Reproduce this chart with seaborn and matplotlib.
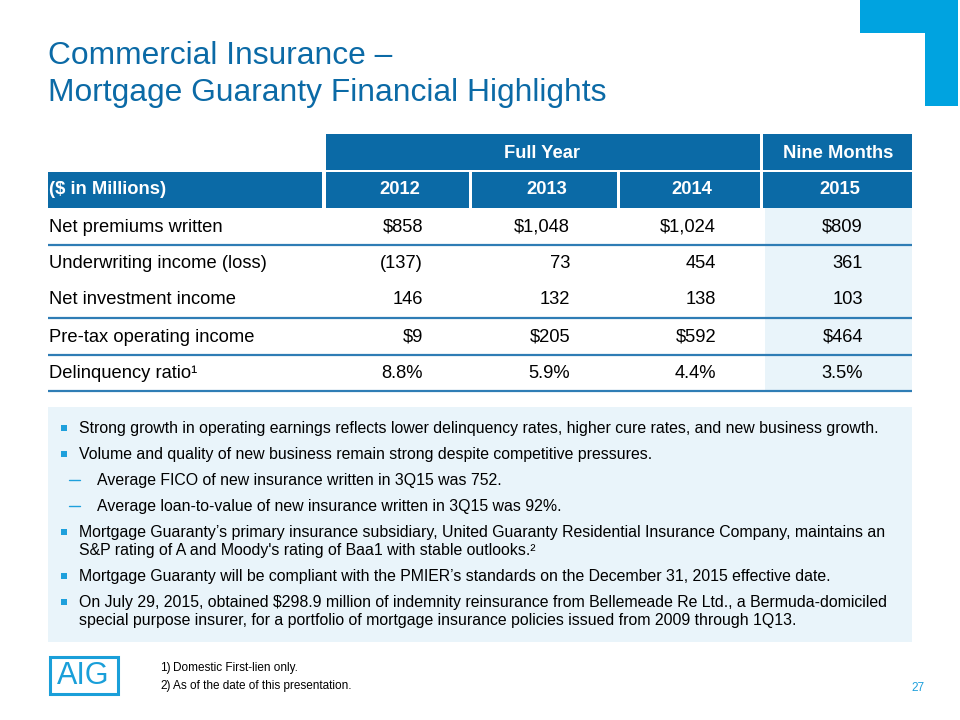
import matplotlib
matplotlib.use("Agg")
import matplotlib.pyplot as plt
import matplotlib.patches as mpatches
import seaborn as sns

# table data
title_lines = ["Commercial Insurance \u2013", "Mortgage Guaranty Financial Highlights"]
period_groups = ["Full Year", "Nine Months"]
unit_label = "($ in Millions)"
years = ["2012", "2013", "2014", "2015"]
row_labels = ["Net premiums written", "Underwriting income (loss)",
              "Net investment income", "Pre-tax operating income",
              "Delinquency ratio\u00b9"]
vals_2012 = ["$858", "(137)", "146", "$9", "8.8%"]
vals_2013 = ["$1,048", "73", "132", "$205", "5.9%"]
vals_2014 = ["$1,024", "454", "138", "$592", "4.4%"]
vals_2015 = ["$809", "361", "103", "$464", "3.5%"]
line_after = [True, False, True, True, True]

bullets = [
    (0, ["Strong growth in operating earnings reflects lower delinquency rates, higher cure rates, and new business growth."]),
    (0, ["Volume and quality of new business remain strong despite competitive pressures."]),
    (1, ["Average FICO of new insurance written in 3Q15 was 752."]),
    (1, ["Average loan-to-value of new insurance written in 3Q15 was 92%."]),
    (0, ["Mortgage Guaranty\u2019s primary insurance subsidiary, United Guaranty Residential Insurance Company, maintains an",
         "S&P rating of A and Moody's rating of Baa1 with stable outlooks.\u00b2"]),
    (0, ["Mortgage Guaranty will be compliant with the PMIER\u2019s standards on the December 31, 2015 effective date."]),
    (0, ["On July 29, 2015, obtained $298.9 million of indemnity reinsurance from Bellemeade Re Ltd., a Bermuda-domiciled",
         "special purpose insurer, for a portfolio of mortgage insurance policies issued from 2009 through 1Q13."]),
]
footnotes = ["Domestic First-lien only.", "As of the date of this presentation."]
page_no = "27"

DARK = "#0b6aa6"
BRIGHT = "#00a3e0"
PALE = "#e9f4fa"
RULE = "#2f7db5"

sns.set_theme(style="white")
plt.rcParams["font.family"] = ["Liberation Sans", "DejaVu Sans"]

fig = plt.figure(figsize=(9.6, 7.2), dpi=100)
ax = fig.add_axes([0, 0, 1, 1])
ax.set_xlim(0, 960)
ax.set_ylim(720, 0)
ax.axis("off")

def box(x0, y0, x1, y1, color, **kw):
    ax.add_patch(mpatches.Rectangle((x0, y0), x1 - x0, y1 - y0, facecolor=color,
                                    edgecolor="none", **kw))

# corner decoration
box(860, 0, 958, 33, BRIGHT)
box(925, 0, 958, 106, BRIGHT)

# title
for i, t in enumerate(title_lines):
    ax.text(48, 64 + 37 * i, t, fontsize=22.9, color=DARK, va="baseline", ha="left")

# header rows
FS = 13.2
col_edges = [(326, 469), (472, 617), (620, 760), (763, 912)]
box(326, 134, 760, 170, DARK)
box(763, 134, 912, 170, DARK)
ax.text(542, 153, period_groups[0], color="white", fontsize=FS, weight="bold", ha="center", va="center")
ax.text(838, 153, period_groups[1], color="white", fontsize=FS, weight="bold", ha="center", va="center")
box(48, 172, 322, 208, DARK)
ax.text(49, 190, unit_label, color="white", fontsize=FS, weight="bold", ha="left", va="center")
for (x0, x1), yr in zip(col_edges, years):
    box(x0, 172, x1, 208, DARK)
    ax.text((x0 + x1) / 2 + 2, 190, yr, color="white", fontsize=FS, weight="bold", ha="center", va="center")

# shaded current period column
box(765, 208, 912, 391, PALE)

row_y = [227, 264, 300, 337, 374]
rule_y = [245, 282, 318, 355, 391]
right_x = [423, 570, 716, 863]
columns = [vals_2012, vals_2013, vals_2014, vals_2015]
for i, lab in enumerate(row_labels):
    ax.text(49, row_y[i], lab, fontsize=FS, color="black", ha="left", va="center")
    for xr, col in zip(right_x, columns):
        ax.text(xr, row_y[i], col[i], fontsize=FS, color="black", ha="right", va="center")
    if line_after[i]:
        ax.plot([48, 912], [rule_y[i], rule_y[i]], color=RULE, lw=1.6, solid_capstyle="butt")

# commentary box
box(48, 407, 912, 642, PALE)
y = 428
for level, lines in bullets:
    if level == 0:
        ax.add_patch(mpatches.Rectangle((61, y - 3.5), 6, 6, facecolor="#1ea0dc", edgecolor="none"))
        tx = 79
    else:
        ax.plot([69, 80], [y, y], color="#1ea0dc", lw=1.0)
        tx = 97
    for j, ln in enumerate(lines):
        ax.text(tx, y + 18.5 * j, ln, fontsize=11.4, color="black", ha="left", va="center")
    y += 18.5 * (len(lines) - 1) + 26

# footer
ax.add_patch(mpatches.Rectangle((49.5, 656.5), 68, 37, facecolor="white", edgecolor="#1a9fd9", lw=2.2))
ax.text(83.5, 676, "AIG", fontsize=22, color="#1a9fd9", ha="center", va="center")
for i, fn in enumerate(footnotes):
    ax.text(160, 668 + 18 * i, f"{i + 1})", fontsize=8.5, color="black", ha="left", va="center")
    ax.text(173, 668 + 18 * i, fn, fontsize=8.5, color="black", ha="left", va="center")
ax.text(918, 688, page_no, fontsize=8.5, color="#1ea0dc", ha="center", va="center")

fig.savefig("out.png", dpi=100)
